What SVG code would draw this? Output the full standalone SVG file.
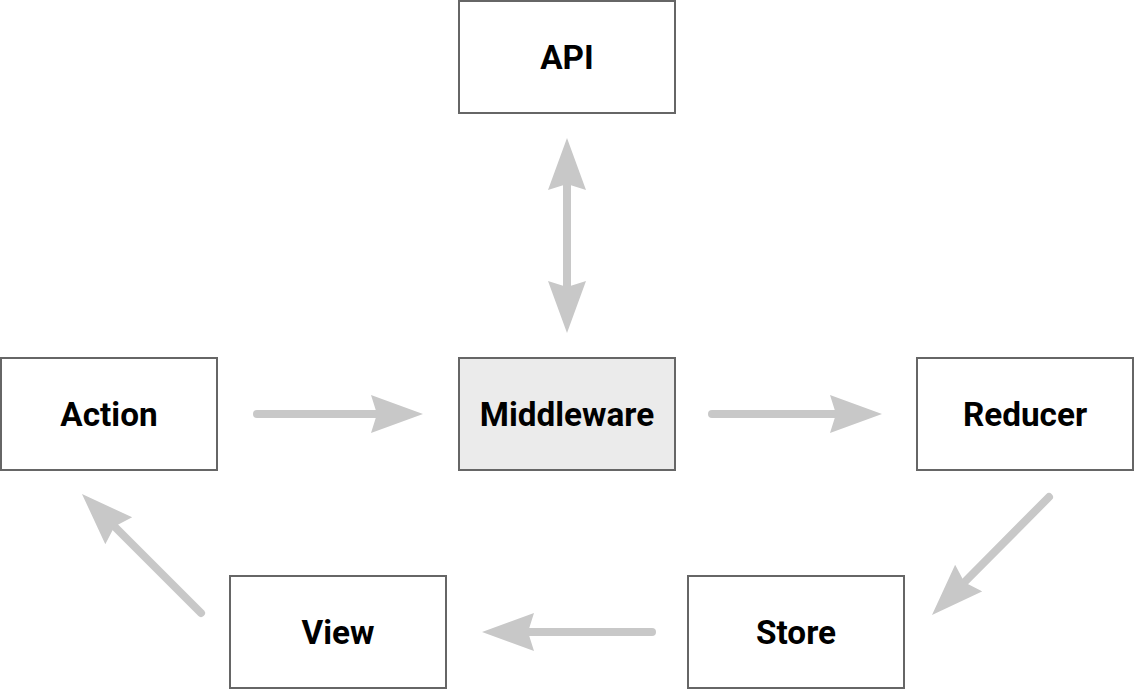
<svg xmlns="http://www.w3.org/2000/svg" width="1134" height="690" viewBox="0 0 1134 690">
  <style>
    .box { fill: #ffffff; stroke: #666666; stroke-width: 2; }
    .hl { fill: #ebebeb; }
    .lbl { font-family: Roboto, "Liberation Sans", sans-serif; font-weight: bold; font-size: 33.3px; fill: #000000; text-anchor: middle; }
    .conn { fill: none; stroke: #c8c8c8; stroke-width: 8; stroke-linecap: round; }
  </style>
  <defs>
    <marker id="head" markerUnits="userSpaceOnUse" viewBox="0 -20 53 40" refX="6" refY="0" markerWidth="53" markerHeight="40" orient="auto-start-reverse">
      <path d="M0,-19 L52,0 L0,19 L6,0 Z" fill="#c8c8c8"/>
    </marker>
  </defs>
  <rect width="1134" height="690" fill="#ffffff"/>
  <g id="connectors">
    <path class="conn" d="M567,184 L567,287" marker-start="url(#head)" marker-end="url(#head)"/>
    <path class="conn" d="M257,414 L377,414" marker-end="url(#head)"/>
    <path class="conn" d="M712,414 L836,414" marker-end="url(#head)"/>
    <path class="conn" d="M1049,497 L964.4,582.3" marker-end="url(#head)"/>
    <path class="conn" d="M652,632 L528,632" marker-end="url(#head)"/>
    <path class="conn" d="M201,613 L114.5,526.5" marker-end="url(#head)"/>
  </g>
  <g id="api">
    <rect class="box" x="459" y="1" width="216" height="112"/>
    <text class="lbl" x="567" y="69">API</text>
  </g>
  <g id="action">
    <rect class="box" x="1" y="358" width="216" height="112"/>
    <text class="lbl" x="109" y="426">Action</text>
  </g>
  <g id="middleware">
    <rect class="box hl" x="459" y="358" width="216" height="112"/>
    <text class="lbl" x="567" y="426">Middleware</text>
  </g>
  <g id="reducer">
    <rect class="box" x="917" y="358" width="216" height="112"/>
    <text class="lbl" x="1025" y="426">Reducer</text>
  </g>
  <g id="view">
    <rect class="box" x="230" y="576" width="216" height="112"/>
    <text class="lbl" x="338" y="644">View</text>
  </g>
  <g id="store">
    <rect class="box" x="688" y="576" width="216" height="112"/>
    <text class="lbl" x="796" y="644">Store</text>
  </g>
</svg>
